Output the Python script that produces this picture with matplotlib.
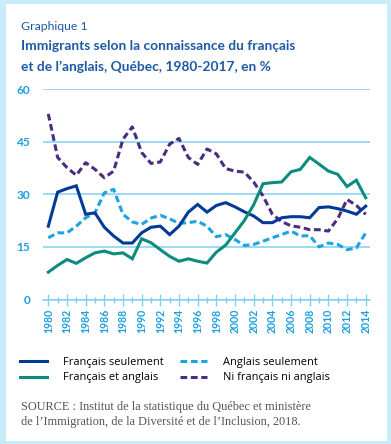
import matplotlib
matplotlib.use("Agg")
import matplotlib.pyplot as plt
from matplotlib.patches import Rectangle
from matplotlib.ticker import MultipleLocator
from matplotlib import font_manager

years = list(range(1980, 2015))

francais_seulement = [20.9, 30.6, 31.6, 32.4, 24.3, 24.7, 20.6, 18.1, 16.1, 16.1,
                      19.0, 20.6, 20.9, 18.5, 20.9, 24.9, 27.1, 24.9, 26.8, 27.6,
                      26.4, 25.0, 23.8, 21.9, 21.9, 23.3, 23.6, 23.6, 23.3, 26.2,
                      26.4, 25.9, 25.2, 24.3, 26.6]
francais_et_anglais = [7.8, 9.7, 11.4, 10.3, 11.9, 13.3, 13.8, 13.0, 13.3, 11.6,
                       17.3, 16.2, 14.2, 12.3, 10.9, 11.6, 10.9, 10.4, 13.5, 15.5,
                       19.0, 22.5, 27.0, 33.0, 33.3, 33.5, 36.4, 37.1, 40.5, 38.6,
                       36.6, 35.7, 32.2, 34.0, 29.0]
anglais_seulement = [17.6, 19.0, 19.0, 20.9, 23.3, 24.7, 30.4, 31.4, 24.3, 22.1,
                     21.4, 23.2, 24.0, 23.0, 21.7, 21.9, 22.3, 20.9, 17.9, 18.5,
                     17.1, 15.4, 15.7, 16.6, 17.6, 18.5, 19.5, 18.1, 18.2, 15.0,
                     16.1, 15.7, 14.2, 14.7, 19.0]
ni_francais_ni_anglais = [52.9, 40.5, 37.6, 35.4, 39.0, 37.1, 34.7, 36.6, 45.7, 49.2,
                          41.9, 38.8, 39.2, 44.3, 45.9, 40.5, 38.5, 42.9, 41.5, 37.3,
                          36.6, 36.3, 33.5, 29.5, 24.3, 22.2, 21.0, 20.6, 19.9, 19.9,
                          19.5, 23.0, 28.5, 26.8, 24.3]

labels = ["Français seulement", "Français et anglais",
          "Anglais seulement", "Ni français ni anglais"]

navy = "#043a97"
teal = "#0b8c7c"
sky = "#1ba3e3"
purple = "#4a2c80"
grid_blue = "#7fd0f2"
tick_blue = "#1a9fdf"
title_blue = "#1d5aa5"

# narrow face for the title if it is there
names = {f.name for f in font_manager.fontManager.ttflist}
if "Liberation Sans Narrow" in names:
    title_font = ["Liberation Sans Narrow", "DejaVu Sans"]
    title_size = 11.0
else:
    title_font = ["Lato", "DejaVu Sans"]
    title_size = 9.9

W, H = 391, 444
fig = plt.figure(figsize=(W / 100, H / 100), dpi=100)
fig.patch.set_facecolor("#c9ecfb")
fig.patches.append(Rectangle((6 / W, 1 - 440.5 / H), 380.5 / W, 436.5 / H,
                             transform=fig.transFigure, facecolor="white",
                             edgecolor="none", zorder=-10))

sans = ["Lato", "DejaVu Sans"]
legend_font = ["Open Sans", "DejaVu Sans"]

fig.text(21 / W, 1 - 27 / H, "Graphique 1", family=sans, fontsize=8.8,
         color=title_blue, va="center", ha="left")
fig.text(21 / W, 1 - 46 / H, "Immigrants selon la connaissance du français",
         family=title_font, fontsize=title_size, fontweight="bold", color=title_blue,
         va="center", ha="left")
fig.text(21 / W, 1 - 67 / H, "et de l\u2019anglais, Québec, 1980-2017, en %",
         family=title_font, fontsize=title_size, fontweight="bold", color=title_blue,
         va="center", ha="left")

ax = fig.add_axes([42.7 / W, 1 - 299.5 / H, (370 - 42.7) / W, (299.5 - 89) / H])
ax.set_facecolor("none")

lw = 2.2
l1, = ax.plot(years, francais_seulement, color=navy, lw=lw, solid_joinstyle="miter",
              clip_on=False, zorder=4)
l2, = ax.plot(years, francais_et_anglais, color=teal, lw=lw, solid_joinstyle="miter",
              clip_on=False, zorder=4)
l3, = ax.plot(years, anglais_seulement, color=sky, lw=lw, dashes=(2.2, 1.2),
              clip_on=False, zorder=3)
l4, = ax.plot(years, ni_francais_ni_anglais, color=purple, lw=lw, dashes=(2.2, 1.2),
              clip_on=False, zorder=3)

ax.set_xlim(1979.4, 2014.46)
ax.set_ylim(0, 60)
ax.yaxis.set_major_locator(MultipleLocator(15))
ax.grid(axis="y", color=grid_blue, lw=1.1, zorder=1)
for s in ["top", "right", "left"]:
    ax.spines[s].set_visible(False)
ax.spines["bottom"].set_color(grid_blue)
ax.spines["bottom"].set_linewidth(1.1)
ax.tick_params(axis="y", length=0, pad=9, labelcolor=tick_blue, labelsize=8.6)
for t in ax.get_yticklabels():
    t.set_fontweight("bold")
    t.set_family(sans)

ax.set_xticks(list(range(1980, 2015, 2)))
ax.set_xticks(list(range(1981, 2015, 2)), minor=True)
ax.tick_params(axis="x", which="major", direction="inout", length=9, width=1,
               color=grid_blue, labelcolor=tick_blue, labelsize=7.6,
               labelrotation=90, pad=2)
ax.tick_params(axis="x", which="minor", direction="inout", length=5, width=1,
               color=grid_blue)
for t in ax.get_xticklabels():
    t.set_fontweight("bold")
    t.set_family(sans)

fig.legend([l1, l2, l3, l4], labels, ncol=2, loc="upper left",
           bbox_to_anchor=(20 / W, 1 - 357 / H), frameon=False,
           prop={"family": legend_font, "size": 7.9}, handlelength=2.5,
           handletextpad=1.4, columnspacing=1.5, labelspacing=0.4,
           borderpad=0, borderaxespad=0)

serif = ["Liberation Serif", "DejaVu Serif"]
fig.text(21 / W, 1 - 407 / H,
         "SOURCE : Institut de la statistique du Québec et ministère",
         family=serif, fontsize=8.8, color="#555555", va="center", ha="left")
fig.text(21 / W, 1 - 422 / H,
         "de l\u2019Immigration, de la Diversité et de l\u2019Inclusion, 2018.",
         family=serif, fontsize=8.8, color="#555555", va="center", ha="left")

fig.savefig("out.png", dpi=100, facecolor=fig.get_facecolor())
